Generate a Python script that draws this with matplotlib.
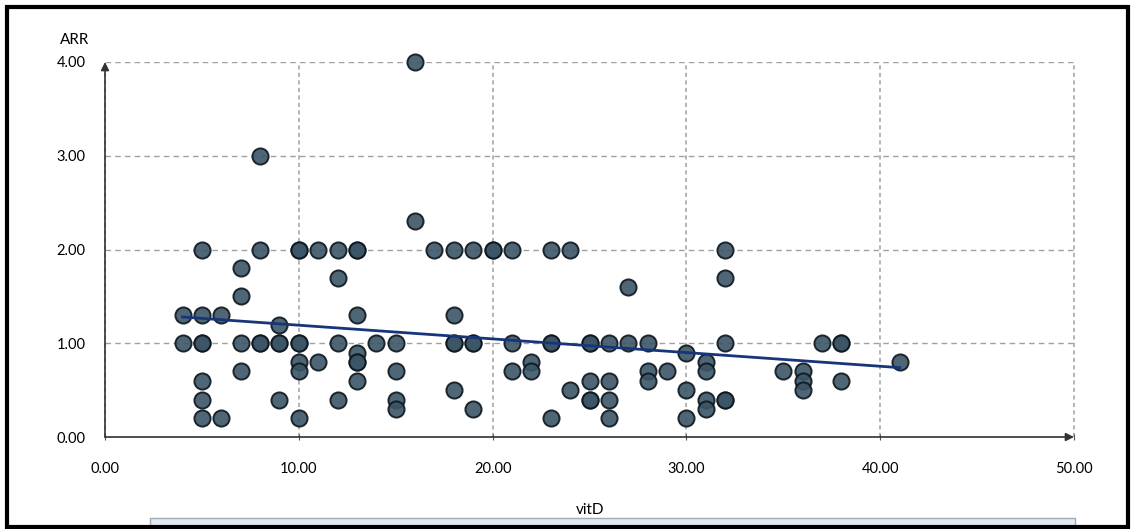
import matplotlib.pyplot as plt
from matplotlib.patches import Rectangle

# vitD vs ARR points (duplicates = overlapping darker dots)
vitd = [4, 4,
        5, 5, 5, 5, 5, 5, 5,
        6, 6,
        7, 7, 7, 7,
        8, 8, 8, 8,
        9, 9, 9, 9,
        10, 10, 10, 10, 10, 10, 10,
        11, 11,
        12, 12, 12, 12,
        13, 13, 13, 13, 13, 13, 13,
        14,
        15, 15, 15, 15,
        16, 16,
        17,
        18, 18, 18, 18, 18,
        19, 19, 19, 19,
        20, 20,
        21, 21, 21,
        22, 22,
        23, 23, 23, 23,
        24, 24,
        25, 25, 25, 25, 25,
        26, 26, 26, 26,
        27, 27,
        28, 28, 28,
        29,
        30, 30, 30,
        31, 31, 31, 31,
        32, 32, 32, 32, 32,
        35,
        36, 36, 36,
        37,
        38, 38, 38,
        41]
arr = [1.3, 1.0,
       2.0, 1.3, 1.0, 1.0, 0.6, 0.4, 0.2,
       1.3, 0.2,
       1.8, 1.5, 1.0, 0.7,
       3.0, 2.0, 1.0, 1.0,
       1.2, 1.0, 1.0, 0.4,
       2.0, 2.0, 1.0, 1.0, 0.8, 0.7, 0.2,
       2.0, 0.8,
       2.0, 1.7, 1.0, 0.4,
       2.0, 2.0, 1.3, 0.9, 0.8, 0.8, 0.6,
       1.0,
       1.0, 0.7, 0.4, 0.3,
       4.0, 2.3,
       2.0,
       2.0, 1.3, 1.0, 1.0, 0.5,
       2.0, 1.0, 1.0, 0.3,
       2.0, 2.0,
       2.0, 1.0, 0.7,
       0.8, 0.7,
       2.0, 1.0, 1.0, 0.2,
       2.0, 0.5,
       1.0, 1.0, 0.6, 0.4, 0.4,
       1.0, 0.6, 0.4, 0.2,
       1.6, 1.0,
       1.0, 0.7, 0.6,
       0.7,
       0.9, 0.5, 0.2,
       0.8, 0.7, 0.4, 0.3,
       2.0, 1.7, 1.0, 0.4, 0.4,
       0.7,
       0.7, 0.6, 0.5,
       1.0,
       1.0, 1.0, 0.6,
       0.8]

# fitted line
fit_x = [4, 41]
fit_y = [1.28, 0.74]

xticks = [0, 10, 20, 30, 40, 50]
yticks = [0, 1, 2, 3, 4]

plt.rcParams['font.family'] = ['Lato', 'DejaVu Sans']

fig = plt.figure(figsize=(11.34, 5.29), dpi=100)
ax = fig.add_axes([0.0926, 0.1739, 0.8545, 0.7089])

ax.set_xlim(0, 50)
ax.set_ylim(0, 4)
for s in ax.spines.values():
    s.set_visible(False)

ax.set_axisbelow(True)
ax.grid(True, axis='y', color='#a0a0a0', linestyle=(0, (4, 3)), linewidth=1)
ax.grid(True, axis='x', color='#a8a8a8', linestyle=(0, (2.5, 2)), linewidth=1.2)
for gl in ax.get_xgridlines():
    gl.set_clip_on(False)
ax.set_xticks(xticks)
ax.set_yticks(yticks)
ax.set_xticklabels(['%.2f' % v for v in xticks], fontsize=10.5)
ax.set_yticklabels(['%.2f' % v for v in yticks], fontsize=10.5)
ax.tick_params(axis='x', length=4, direction='inout', pad=16, color='#555555')
ax.tick_params(axis='y', length=0, pad=14)

# axis arrows
ax.annotate('', xy=(1.0, 0), xytext=(0, 0), xycoords='axes fraction',
            arrowprops=dict(arrowstyle='-|>', color='#333333', lw=1.2,
                            mutation_scale=12, shrinkA=0, shrinkB=0))
ax.annotate('', xy=(0, 1.0), xytext=(0, 0), xycoords='axes fraction',
            arrowprops=dict(arrowstyle='-|>', color='#333333', lw=1.2,
                            mutation_scale=12, shrinkA=0, shrinkB=0))

ax.scatter(vitd, arr, s=135, facecolor='#3b5567', edgecolor='#0d161d',
           linewidth=1.4, alpha=0.9, zorder=3, clip_on=False)
ax.plot(fit_x, fit_y, color='#17357a', linewidth=2, zorder=4)

fig.text(75 / 1134, 1 - 40 / 529, 'ARR', fontsize=11, ha='center', va='center')
fig.text(590 / 1134, 1 - 510 / 529, 'vitD', fontsize=11, ha='center', va='center')

# bottom strip and outer frame
fig.patches.append(Rectangle((150 / 1134, 2 / 529), 925 / 1134, 9 / 529,
                             transform=fig.transFigure, facecolor='#e4eaf1',
                             edgecolor='#a0a8b0', linewidth=1))
fig.patches.append(Rectangle((7 / 1134, 2 / 529), 1121 / 1134, 520 / 529,
                             transform=fig.transFigure, fill=False,
                             edgecolor='black', linewidth=3))

plt.savefig('out.png', dpi=100)
